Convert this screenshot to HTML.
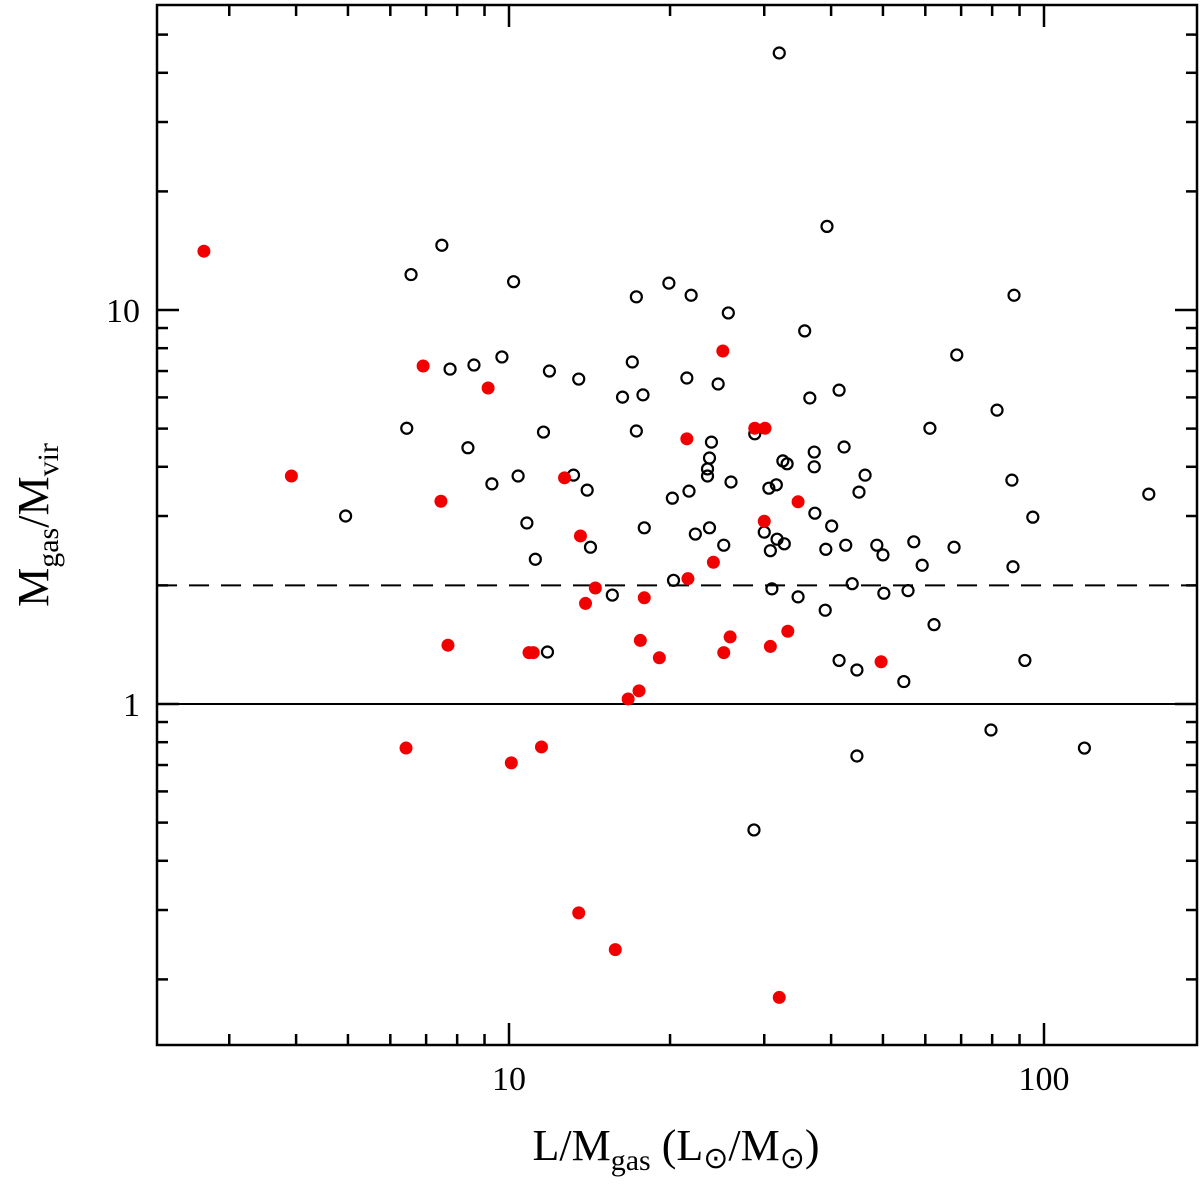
<!DOCTYPE html>
<html><head><meta charset="utf-8"><style>
html,body{margin:0;padding:0;background:#fff}
svg text{font-family:"Liberation Serif",serif;fill:#000}
</style></head><body>
<svg id="chart" width="1200" height="1180" xmlns="http://www.w3.org/2000/svg">
<g id="plot"></g>
<text x="509" y="1090" font-size="34" text-anchor="middle">10</text>
<text x="1044" y="1090" font-size="34" text-anchor="middle">100</text>
<text x="140" y="322" font-size="34" text-anchor="end">10</text>
<text x="140" y="716" font-size="34" text-anchor="end">1</text>
<text x="676" y="1160" font-size="44" text-anchor="middle">L/M<tspan font-size="30" dy="10">gas</tspan><tspan dy="-10">  (L</tspan><tspan font-size="30" dy="8">⊙</tspan><tspan dy="-8">/M</tspan><tspan font-size="30" dy="8">⊙</tspan><tspan dy="-8">)</tspan></text>
<text transform="translate(48,525) rotate(-90)" font-size="44" text-anchor="middle">M<tspan font-size="30" dy="10">gas</tspan><tspan dy="-10">/M</tspan><tspan font-size="30" dy="10">vir</tspan></text>
</svg>
<script>
const openX=[4.95,6.44,6.56,7.49,7.76,8.38,8.6,9.29,9.7,10.2,10.4,10.8,11.2,11.6,11.8,11.9,13.2,13.5,14.0,14.2,15.6,16.3,17.0,17.3,17.3,17.8,17.9,19.9,20.2,20.3,21.5,21.7,21.9,22.3,23.5,23.5,23.7,23.7,23.9,24.6,25.2,25.7,26.0,28.8,28.7,30.0,30.6,30.8,31.0,31.6,31.7,32.0,32.5,32.7,33.1,34.7,35.7,36.5,37.2,37.2,37.3,39.0,39.1,39.3,40.1,41.4,41.4,42.3,42.6,43.8,44.7,44.7,45.1,46.3,48.7,50.0,50.2,54.7,55.7,57.1,59.2,61.2,62.3,67.9,68.7,79.6,81.7,87.1,87.5,87.9,92.1,95.3,119,157];
const openY=[3.0,5.01,12.3,14.6,7.08,4.47,7.25,3.62,7.6,11.8,3.79,2.88,2.33,4.9,1.355,7.0,3.81,6.68,3.49,2.5,1.89,6.01,7.38,10.8,4.93,6.09,2.8,11.7,3.33,2.06,6.72,3.47,10.9,2.7,3.95,3.79,4.21,2.8,4.62,6.49,2.53,9.83,3.66,4.85,0.479,2.73,3.53,2.45,1.96,3.6,2.62,44.9,4.14,2.55,4.07,1.87,8.85,5.98,4.36,4.0,3.05,1.73,2.47,16.3,2.83,6.26,1.29,4.49,2.53,2.02,1.22,0.738,3.45,3.81,2.53,2.39,1.91,1.14,1.94,2.58,2.25,5.01,1.59,2.5,7.69,0.859,5.57,3.7,2.23,10.9,1.29,2.98,0.773,3.41];
const redX=[2.69,3.92,6.42,6.91,7.46,7.69,9.14,10.1,10.9,11.1,11.5,12.7,13.6,13.5,13.9,14.5,15.8,16.7,17.5,17.6,17.9,19.1,21.5,21.6,24.1,25.1,25.2,25.9,28.8,30.1,30.0,30.8,32.0,33.2,34.7,49.6];
const redY=[14.1,3.79,0.773,7.21,3.27,1.41,6.34,0.709,1.35,1.35,0.778,3.75,2.67,0.295,1.80,1.97,0.238,1.03,1.08,1.45,1.86,1.31,4.71,2.08,2.29,7.87,1.35,1.48,5.01,5.01,2.91,1.40,0.180,1.53,3.26,1.28];
const refLines=[1,2];
const xMajor=[10,100];
const yMajor=[1,10];
const L=157,R=1197,T=5,B=1045;
const X0=1-(509-157)/535, X1=X0+(R-L)/535;
const Y0=-(B-704)/394, Y1=(704-T)/394;
function sx(v){return L+(Math.log10(v)-X0)/(X1-X0)*(R-L);}
function sy(v){return B-(Math.log10(v)-Y0)/(Y1-Y0)*(B-T);}
const NS="http://www.w3.org/2000/svg";
const g=document.getElementById('plot');
function mk(t,a){const e=document.createElementNS(NS,t);for(const k in a)e.setAttribute(k,a[k]);g.appendChild(e);return e;}
let fr=mk('rect',{x:L,y:T,width:R-L,height:B-T,fill:'none',stroke:'#000','stroke-width':2.5});


const xt=[];
[1,10,100].forEach(b=>{for(let m=1;m<10;m++)xt.push(b*m);});
xt.forEach(v=>{
  const px=sx(v); if(px<L+1||px>R-1)return;
  const len=xMajor.includes(v)?22:11;
  let t1=mk('line',{x1:px,x2:px,y1:B,y2:B-len,stroke:'#000','stroke-width':2.5});
  
  
  let t2=mk('line',{x1:px,x2:px,y1:T,y2:T+len,stroke:'#000','stroke-width':2.5});
  
  
});
const yt=[];
[0.1,1,10].forEach(b=>{for(let m=1;m<10;m++)yt.push(b*m);});
yt.forEach(v=>{
  const py=sy(v); if(py<T+1||py>B-1)return;
  const len=yMajor.includes(Math.round(v*1000)/1000)?22:11;
  let t1=mk('line',{x1:L,x2:L+len,y1:py,y2:py,stroke:'#000','stroke-width':2.5});
  
  
  let t2=mk('line',{x1:R,x2:R-len,y1:py,y2:py,stroke:'#000','stroke-width':2.5});
  
  
});
let l1=mk('line',{x1:L,x2:R,y1:sy(refLines[0]),y2:sy(refLines[0]),stroke:'#000','stroke-width':2});


let l2=mk('line',{x1:L,x2:R,y1:sy(refLines[1]),y2:sy(refLines[1]),stroke:'#000','stroke-width':2,'stroke-dasharray':'20,12'});


openX.forEach((x,i)=>{
  const c=mk('circle',{cx:sx(x),cy:sy(openY[i]),r:5.5,fill:'none',stroke:'#000','stroke-width':2.2});
  
  
});
redX.forEach((x,i)=>{
  const c=mk('circle',{cx:sx(x),cy:sy(redY[i]),r:6.5,fill:'#f00000',stroke:'none'});
  
  
});
</script>
</body></html>
